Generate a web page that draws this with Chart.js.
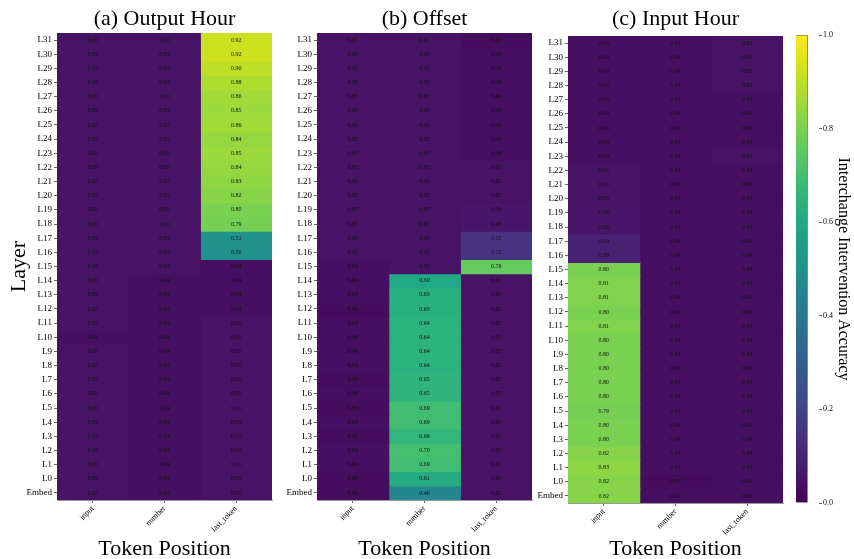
<!DOCTYPE html>
<html>
<head>
<meta charset="utf-8">
<script src="https://cdn.jsdelivr.net/npm/chart.js@4/dist/chart.umd.min.js"></script>
<style>
  html, body { margin: 0; padding: 0; background: #fff; }
  #wrap { position: relative; width: 854px; height: 559px; }
  #wrap canvas { position: absolute; left: 0; top: 0; }
</style>
</head>
<body>
<div id="wrap">
  <canvas id="pa" width="854" height="559"></canvas>
  <canvas id="pb" width="854" height="559"></canvas>
  <canvas id="pc" width="854" height="559"></canvas>
  <canvas id="cbar" width="854" height="559"></canvas>
</div>
<script>
// Rows, bottom to top
const layers = ['Embed','L0','L1','L2','L3','L4','L5','L6','L7','L8','L9','L10','L11','L12','L13','L14','L15',
  'L16','L17','L18','L19','L20','L21','L22','L23','L24','L25','L26','L27','L28','L29','L30','L31'];
const tokens = ['input', 'number', 'last_token'];
const colorTicks = [0, 0.2, 0.4, 0.6, 0.8, 1.0];

// (a) Output Hour — values per token position, Embed..L31
const outInput  = [0.05,0.05,0.05,0.05,0.05,0.05,0.05,0.05,0.05,0.05,0.05,0.04,0.05,0.05,0.05,0.05,0.05,
  0.05,0.05,0.05,0.05,0.05,0.05,0.05,0.05,0.05,0.05,0.05,0.05,0.05,0.05,0.05,0.05];
const outNumber = [0.04,0.04,0.04,0.04,0.04,0.04,0.04,0.04,0.04,0.04,0.04,0.04,0.04,0.04,0.04,0.04,0.05,
  0.05,0.05,0.05,0.05,0.05,0.05,0.05,0.05,0.05,0.05,0.05,0.05,0.05,0.05,0.05,0.05];
const outLast   = [0.05,0.05,0.05,0.05,0.05,0.05,0.05,0.05,0.05,0.05,0.05,0.05,0.05,0.04,0.04,0.04,0.04,
  0.50,0.51,0.79,0.80,0.82,0.83,0.84,0.85,0.84,0.86,0.85,0.86,0.88,0.90,0.92,0.92];

// (b) Offset
const offInput  = [0.03,0.03,0.04,0.04,0.03,0.04,0.03,0.04,0.03,0.04,0.04,0.04,0.04,0.03,0.04,0.04,0.04,
  0.05,0.05,0.05,0.05,0.05,0.05,0.05,0.05,0.05,0.05,0.05,0.05,0.05,0.05,0.05,0.05];
const offNumber = [0.46,0.61,0.69,0.70,0.66,0.69,0.69,0.65,0.65,0.64,0.64,0.64,0.64,0.63,0.63,0.60,0.05,
  0.05,0.05,0.05,0.05,0.05,0.05,0.05,0.05,0.05,0.05,0.05,0.05,0.05,0.05,0.05,0.05];
const offLast   = [0.05,0.05,0.05,0.05,0.05,0.05,0.05,0.05,0.05,0.05,0.05,0.05,0.05,0.05,0.05,0.05,0.76,
  0.15,0.15,0.06,0.06,0.05,0.05,0.05,0.04,0.04,0.04,0.04,0.04,0.04,0.04,0.04,0.03];

// (c) Input Hour
const inInput   = [0.82,0.82,0.83,0.82,0.80,0.80,0.79,0.80,0.80,0.80,0.80,0.80,0.81,0.80,0.81,0.81,0.80,
  0.09,0.09,0.06,0.06,0.05,0.05,0.05,0.04,0.04,0.04,0.04,0.04,0.04,0.04,0.04,0.04];
const inNumber  = [0.04,0.03,0.04,0.04,0.04,0.04,0.04,0.04,0.04,0.04,0.04,0.04,0.04,0.04,0.04,0.04,0.04,
  0.04,0.04,0.04,0.04,0.04,0.04,0.04,0.04,0.04,0.04,0.04,0.04,0.04,0.04,0.04,0.04];
const inLast    = [0.04,0.04,0.04,0.04,0.04,0.04,0.04,0.04,0.04,0.04,0.04,0.04,0.04,0.04,0.04,0.04,0.04,
  0.04,0.04,0.04,0.04,0.04,0.04,0.04,0.05,0.04,0.04,0.04,0.04,0.05,0.05,0.05,0.05];

const SERIF = "'Liberation Serif', 'DejaVu Serif', serif";

// viridis colour stops
const VIRIDIS = ['#440154','#471365','#482475','#463480','#414487','#3b528b','#355f8d','#2f6c8e','#2a788e',
  '#25848e','#21918c','#1e9c89','#22a884','#2fb47c','#44bf70','#5ec962','#7ad151','#9bd93c','#bddf26','#dfe318','#fde725'];
function hexRgb(h) { return [1,3,5].map(i => parseInt(h.substr(i,2),16)); }
function viridis(v) {
  const t = Math.max(0, Math.min(1, v)) * (VIRIDIS.length - 1);
  const i = Math.min(Math.floor(t), VIRIDIS.length - 2);
  const f = t - i;
  const a = hexRgb(VIRIDIS[i]), b = hexRgb(VIRIDIS[i+1]);
  const c = a.map((x, k) => Math.round(x + (b[k] - x) * f));
  return `rgb(${c[0]},${c[1]},${c[2]})`;
}

// writes each cell's value at its centre
const cellText = {
  id: 'cellText',
  afterDatasetsDraw(chart) {
    const ctx = chart.ctx;
    ctx.save();
    ctx.font = `6px ${SERIF}`;
    ctx.fillStyle = '#111';
    ctx.textAlign = 'center';
    ctx.textBaseline = 'middle';
    chart.data.datasets.forEach((ds, di) => {
      chart.getDatasetMeta(di).data.forEach((el, i) => {
        const p = el.getCenterPoint();
        ctx.fillText(ds.values[i].toFixed(2), p.x, p.y);
      });
    });
    ctx.restore();
  }
};

// panel heading centred over the plot area
const panelTitle = {
  id: 'panelTitle',
  afterDraw(chart, args, opts) {
    const ctx = chart.ctx, a = chart.chartArea;
    ctx.save();
    ctx.font = `22px ${SERIF}`;
    ctx.fillStyle = '#000';
    ctx.textAlign = 'center';
    ctx.textBaseline = 'middle';
    ctx.fillText(opts.text, (a.left + a.right) / 2, opts.y);
    ctx.restore();
  }
};

function makePanel(id, title, cols, box, showLayerTitle) {
  const datasets = cols.map((vals, c) => ({
    data: vals.map(() => [c, c + 1]),
    values: vals,
    backgroundColor: vals.map(viridis),
    borderWidth: 0,
    inflateAmount: 0.6,
    grouped: false,
    barPercentage: 1,
    categoryPercentage: 1
  }));
  new Chart(document.getElementById(id), {
    type: 'bar',
    data: { labels: layers, datasets },
    options: {
      indexAxis: 'y',
      responsive: false,
      animation: false,
      devicePixelRatio: 1,
      layout: { padding: { left: 0, top: box.top, right: 854 - box.right, bottom: 0 } },
      plugins: {
        legend: { display: false },
        tooltip: { enabled: false },
        panelTitle: { text: title, y: 19 }
      },
      scales: {
        y: {
          type: 'category',
          reverse: true,
          afterFit: s => { s.width = box.left; },
          grid: { display: true, drawOnChartArea: false, offset: false, tickLength: 3, color: '#666' },
          border: { display: true, color: '#999' },
          ticks: { font: { family: SERIF, size: 9 }, color: '#000', padding: 2, autoSkip: false },
          title: {
            display: showLayerTitle, text: 'Layer', color: '#000',
            font: { family: SERIF, size: 22 }, padding: { top: 6, bottom: 0 }
          }
        },
        x: {
          type: 'linear',
          min: 0, max: tokens.length,
          afterBuildTicks: s => { s.ticks = tokens.map((t, i) => ({ value: i + 0.5 })); },
          afterFit: s => { s.height = 559 - box.bottom; },
          grid: { display: true, drawOnChartArea: false, tickLength: 3, color: '#666' },
          border: { display: true, color: '#999' },
          ticks: {
            font: { family: SERIF, size: 8 }, color: '#000', padding: 1,
            minRotation: 45, maxRotation: 45, autoSkip: false,
            callback: (v, i) => tokens[i]
          },
          title: {
            display: true, text: 'Token Position', color: '#000',
            font: { family: SERIF, size: 22 }, padding: { top: 0, bottom: -3 }
          }
        }
      }
    },
    plugins: [cellText, panelTitle]
  });
}

makePanel('pa', '(a) Output Hour', [outInput, outNumber, outLast], { left: 57, right: 272, top: 33, bottom: 500 }, true);
makePanel('pb', '(b) Offset', [offInput, offNumber, offLast], { left: 317, right: 532, top: 33, bottom: 500 }, false);
makePanel('pc', '(c) Input Hour', [inInput, inNumber, inLast], { left: 568, right: 783, top: 36, bottom: 503 }, false);

// colour bar
new Chart(document.getElementById('cbar'), {
  type: 'bar',
  data: {
    labels: [''],
    datasets: [{
      data: [[colorTicks[0], colorTicks[colorTicks.length - 1]]],
      backgroundColor: ctx => {
        const a = ctx.chart.chartArea;
        if (!a) return VIRIDIS[0];
        const g = ctx.chart.ctx.createLinearGradient(0, a.bottom, 0, a.top);
        VIRIDIS.forEach((c, i) => g.addColorStop(i / (VIRIDIS.length - 1), c));
        return g;
      },
      borderWidth: 0.8,
      borderColor: '#555',
      borderSkipped: false,
      barPercentage: 1,
      categoryPercentage: 1
    }]
  },
  options: {
    responsive: false,
    animation: false,
    devicePixelRatio: 1,
    layout: { padding: { left: 796, top: 35, right: 0, bottom: 559 - 503 } },
    plugins: { legend: { display: false }, tooltip: { enabled: false } },
    scales: {
      x: { display: false, offset: false },
      y: {
        position: 'right',
        min: 0, max: 1,
        afterFit: s => { s.width = 854 - 819; },
        afterBuildTicks: s => { s.ticks = colorTicks.map(v => ({ value: v })); },
        grid: { display: true, drawOnChartArea: false, tickLength: 3, color: '#666' },
        border: { display: false },
        ticks: { font: { family: SERIF, size: 8 }, color: '#000', padding: 1, callback: v => v.toFixed(1) },
        title: {
          display: true, text: 'Interchange Intervention Accuracy', color: '#000',
          font: { family: SERIF, size: 16 }, padding: { top: 1, bottom: 0 }
        }
      }
    }
  }
});
</script>
</body>
</html>
